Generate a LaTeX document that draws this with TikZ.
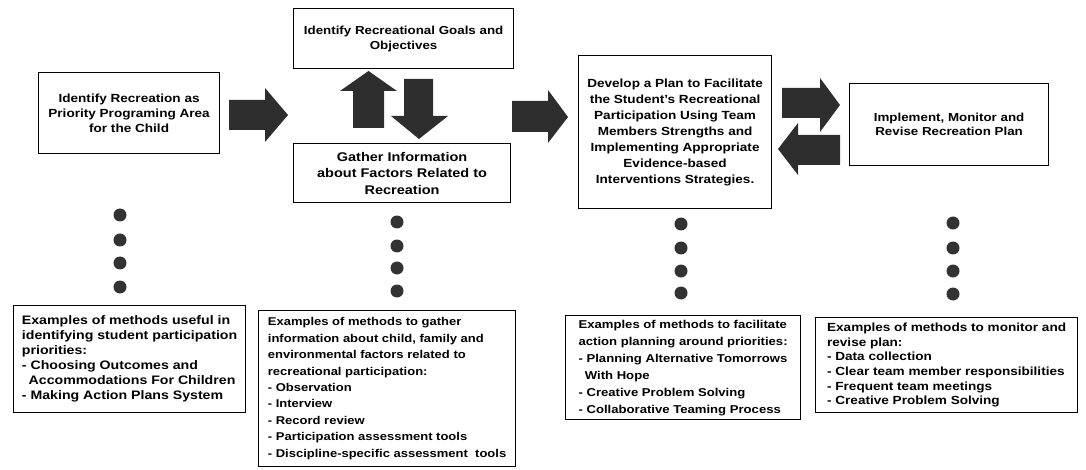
\documentclass[tikz,border=0pt]{standalone}
\usepackage{fontspec}
\setmainfont{Liberation Sans}[FakeStretch=1.15]
\begin{document}
\begin{tikzpicture}[x=1pt,y=-1pt,
  box/.style={draw, line width=1.2pt, fill=white, anchor=north west, inner sep=0pt, align=center},
  exbox/.style={draw, line width=1.2pt, fill=white, anchor=north west, inner xsep=5pt, inner ysep=0pt, align=left},
  blk/.style={fill=black!82},
  dotm/.style={fill=black!80}]
\useasboundingbox (0,0) rectangle (1086,470);

% top boxes
\node[box, minimum width=181, minimum height=81, font=\bfseries\fontsize{11.8}{15}\selectfont] (b1) at (38,72)
  {Identify Recreation as\\Priority Programing Area\\for the Child};
\node[box, minimum width=220, minimum height=60, font=\bfseries\fontsize{11.6}{15}\selectfont] (goals) at (293,8)
  {Identify Recreational Goals and\\Objectives};
\node[box, minimum width=217, minimum height=59, font=\bfseries\fontsize{12.6}{16.5}\selectfont] (gather) at (293,143)
  {Gather Information\\about Factors Related to\\Recreation};
\node[box, minimum width=193, minimum height=153, font=\bfseries\fontsize{11.8}{16}\selectfont] (dev) at (578,55)
  {Develop a Plan to Facilitate\\the Student's Recreational\\Participation Using Team\\Members Strengths and\\Implementing Appropriate\\Evidence-based\\Interventions Strategies.};
\node[box, minimum width=199, minimum height=82, font=\bfseries\fontsize{11.6}{14.5}\selectfont] (impl) at (849,83)
  {Implement, Monitor and\\Revise Recreation Plan};

% block arrows
\fill[blk] (229,100) -- (265,100) -- (265,88) -- (288,115) -- (265,142) -- (265,130) -- (229,130) -- cycle;
\fill[blk] (353,128) -- (353,91) -- (340,91) -- (368.5,71) -- (397,91) -- (384,91) -- (384,128) -- cycle;
\fill[blk] (404,79) -- (433,79) -- (433,116) -- (448,116) -- (419,139) -- (391,116) -- (404,116) -- cycle;
\fill[blk] (512,101) -- (548,101) -- (548,90) -- (568,117) -- (548,143) -- (548,132) -- (512,132) -- cycle;
\fill[blk] (782,88) -- (820,88) -- (820,78) -- (840,105) -- (820,132) -- (820,118) -- (782,118) -- cycle;
\fill[blk] (840,135) -- (798,135) -- (798,123) -- (778,149) -- (798,175) -- (798,165) -- (840,165) -- cycle;

% dots
\foreach \y in {215,240,263,287} \fill[dotm] (120,\y) circle (6.5);
\foreach \y in {222,246,268,291} \fill[dotm] (397,\y) circle (6.5);
\foreach \y in {224,248,271,293} \fill[dotm] (681,\y) circle (6.5);
\foreach \y in {223,248,271,294} \fill[dotm] (953,\y) circle (6.5);

% example boxes
\node[exbox, minimum width=232, minimum height=107, font=\bfseries\fontsize{12.3}{15}\selectfont] (e1) at (13,305)
  {Examples of methods useful in\\identifying student participation\\priorities:\\- Choosing Outcomes and\\\hspace*{0.55em}Accommodations For Children\\- Making Action Plans System};
\node[exbox, minimum width=257, minimum height=156, font=\bfseries\fontsize{11.3}{16.4}\selectfont] (e2) at (258,310)
  {Examples of methods to gather\\information about child, family and\\environmental factors related to\\recreational participation:\\- Observation\\- Interview\\- Record review\\- Participation assessment tools\\- Discipline-specific assessment\ \ tools};
\node[exbox, minimum width=235, minimum height=104, font=\bfseries\fontsize{11.4}{17}\selectfont] (e3) at (565,315)
  {Examples of methods to facilitate\\action planning around priorities:\\- Planning Alternative Tomorrows\\\hspace*{0.55em}With Hope\\- Creative Problem Solving\\- Collaborative Teaming Process};
\node[exbox, minimum width=262, minimum height=95, font=\bfseries\fontsize{11.8}{14.7}\selectfont] (e4) at (815,317)
  {Examples of methods to monitor and\\revise plan:\\- Data collection\\- Clear team member responsibilities\\- Frequent team meetings\\- Creative Problem Solving};
\end{tikzpicture}
\end{document}
